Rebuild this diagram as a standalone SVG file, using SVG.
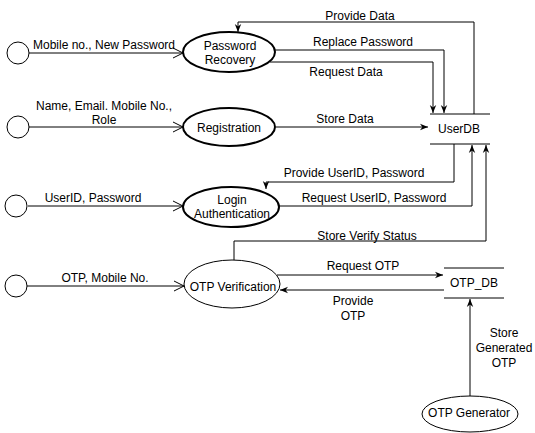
<svg xmlns="http://www.w3.org/2000/svg" width="535" height="433" viewBox="0 0 535 433">
<style>
text{font-family:"Liberation Sans",Arial,sans-serif;font-size:12px;fill:#000;text-anchor:middle;dominant-baseline:central}
.thick{fill:#fff;stroke:#000;stroke-width:2}
.thin{fill:#fff;stroke:#000;stroke-width:1}
.edge{fill:none;stroke:#000;stroke-width:1}
.fa{marker-end:url(#fill)}
.oa{marker-end:url(#open)}
.store{stroke:#000;stroke-width:1}
</style>
<defs>
<marker id="fill" viewBox="0 0 10 10" refX="10" refY="5" markerWidth="8" markerHeight="8" markerUnits="userSpaceOnUse" orient="auto">
<path d="M0,1 L10,5 L0,9 L3,5 z" fill="#000"/>
</marker>
<marker id="open" viewBox="0 0 10 12" refX="10" refY="6" markerWidth="10" markerHeight="12" markerUnits="userSpaceOnUse" orient="auto">
<path d="M0,1 L10,6 L0,11" fill="none" stroke="#000" stroke-width="1"/>
</marker>
</defs>
<rect width="535" height="433" fill="#fff"/>
<g id="connectors">
<path class="edge oa" d="M29,53 L183,53"/>
<path class="edge oa" d="M29,127 L183,127"/>
<path class="edge oa" d="M28,206 L183,206"/>
<path class="edge oa" d="M27,286 L184,286"/>
<path class="edge fa" d="M474,114 L474,22 L238,22 L238,32"/>
<path class="edge fa" d="M274,50 L444,50 L444,113"/>
<path class="edge fa" d="M270,62 L433,62 L433,113"/>
<path class="edge fa" d="M276,127 L428,127"/>
<path class="edge fa" d="M454,144 L454,182 L266,182 L266,189"/>
<path class="edge fa" d="M279,206 L472,206 L472,145"/>
<path class="edge fa" d="M234,260 L234,241 L486,241 L486,145"/>
<path class="edge fa" d="M277,275 L443,275"/>
<path class="edge fa" d="M444,290 L280,290"/>
<path class="edge fa" d="M470,396 L470,299"/>
<text x="104" y="45">Mobile no., New Password</text>
<text x="104" y="106">Name, Email. Mobile No.,</text>
<text x="104" y="120">Role</text>
<text x="93" y="198">UserID, Password</text>
<text x="105" y="278">OTP, Mobile No.</text>
<text x="360" y="16">Provide Data</text>
<text x="363" y="42">Replace Password</text>
<text x="346" y="72">Request Data</text>
<text x="345" y="119">Store Data</text>
<text x="354" y="173">Provide UserID, Password</text>
<text x="374" y="198">Request UserID, Password</text>
<text x="367" y="236">Store Verify Status</text>
<text x="363" y="266">Request OTP</text>
<text x="353" y="301">Provide</text>
<text x="353" y="316">OTP</text>
<text x="504" y="333">Store</text>
<text x="504" y="348">Generated</text>
<text x="504" y="363">OTP</text>
</g>
<g id="ext1"><circle class="thin" cx="18" cy="53" r="11"/></g>
<g id="ext2"><circle class="thin" cx="18" cy="127" r="11"/></g>
<g id="ext3"><circle class="thin" cx="16" cy="206" r="11"/></g>
<g id="ext4"><circle class="thin" cx="16" cy="286" r="11"/></g>
<g id="password-recovery">
<ellipse class="thick" cx="229" cy="52" rx="46" ry="20"/>
<text x="230" y="46">Password</text>
<text x="230" y="60">Recovery</text>
</g>
<g id="registration">
<ellipse class="thick" cx="229" cy="127" rx="46" ry="19"/>
<text x="229" y="128">Registration</text>
</g>
<g id="login">
<ellipse class="thick" cx="231" cy="207" rx="48" ry="20"/>
<text x="232" y="200">Login</text>
<text x="232" y="214">Authentication</text>
</g>
<g id="otp-verification">
<ellipse class="thin" cx="232" cy="284" rx="48" ry="24"/>
<text x="233" y="287">OTP Verification</text>
</g>
<g id="otp-generator">
<ellipse class="thin" cx="470" cy="414" rx="48" ry="18"/>
<text x="469" y="413">OTP Generator</text>
</g>
<g id="userdb">
<line class="store" x1="430" y1="114" x2="490" y2="114"/>
<line class="store" x1="430" y1="144" x2="490" y2="144"/>
<text x="459" y="129">UserDB</text>
</g>
<g id="otp-db">
<line class="store" x1="444" y1="268" x2="504" y2="268"/>
<line class="store" x1="444" y1="298" x2="504" y2="298"/>
<text x="474" y="283">OTP_DB</text>
</g>
</svg>
